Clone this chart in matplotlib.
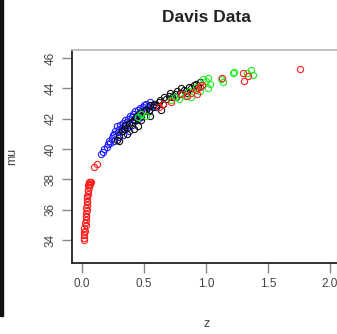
import matplotlib as mpl
import matplotlib.pyplot as plt
from matplotlib.patches import Rectangle
mpl.rcParams['font.family'] = 'Liberation Sans'

# Davis data: (z, mu) per group
red_z = [0.02, 0.02, 0.02, 0.02, 0.025, 0.02, 0.03, 0.025, 0.03, 0.03,
         0.035, 0.03, 0.04, 0.035, 0.04, 0.04, 0.045, 0.04, 0.05, 0.045,
         0.05, 0.05, 0.055, 0.05, 0.06, 0.055, 0.06, 0.065, 0.07, 0.065,
         0.10, 0.12, 0.62, 0.65, 0.72, 0.80, 0.85, 0.88, 0.92, 0.93,
         0.95, 0.97, 1.13, 1.30, 1.31, 1.34, 1.76]
red_mu = [34.0, 34.1, 34.3, 34.5, 34.6, 34.8, 35.0, 35.1, 35.3, 35.5,
          35.6, 35.8, 36.0, 36.1, 36.3, 36.5, 36.6, 36.8, 37.0, 36.9,
          37.2, 37.3, 37.5, 37.6, 37.7, 37.8, 37.6, 37.8, 37.8, 37.7,
          38.8, 39.0, 42.8, 43.0, 43.1, 43.6, 43.5, 43.7, 43.9, 43.6,
          44.1, 44.2, 44.7, 45.0, 44.5, 44.8, 45.3]

blue_z = [0.15, 0.17, 0.18, 0.20, 0.21, 0.22, 0.23, 0.24, 0.25, 0.26,
          0.27, 0.28, 0.29, 0.30, 0.30, 0.31, 0.32, 0.33, 0.34, 0.35,
          0.35, 0.36, 0.37, 0.38, 0.39, 0.40, 0.40, 0.41, 0.42, 0.43,
          0.44, 0.45, 0.45, 0.46, 0.47, 0.48, 0.49, 0.50, 0.51, 0.52,
          0.53, 0.54, 0.55, 0.57, 0.60, 0.33, 0.38, 0.26, 0.42, 0.48]
blue_mu = [39.7, 39.8, 40.0, 40.1, 40.3, 40.5, 40.4, 40.7, 40.9, 41.0,
           41.2, 41.5, 41.1, 41.3, 40.8, 41.6, 41.4, 41.7, 41.5, 41.9,
           41.3, 41.8, 42.0, 41.7, 42.2, 42.1, 41.6, 42.3, 42.0, 42.5,
           42.2, 42.6, 42.0, 42.4, 42.7, 42.5, 42.8, 42.9, 42.6, 43.0,
           42.8, 42.6, 43.1, 42.9, 42.8, 40.9, 41.2, 40.5, 41.9, 42.1]

black_z = [0.28, 0.30, 0.32, 0.34, 0.35, 0.36, 0.38, 0.40, 0.42, 0.44,
           0.45, 0.46, 0.48, 0.50, 0.52, 0.54, 0.55, 0.57, 0.58, 0.60,
           0.62, 0.63, 0.65, 0.66, 0.68, 0.70, 0.71, 0.73, 0.75, 0.77,
           0.79, 0.80, 0.82, 0.84, 0.86, 0.88, 0.90, 0.92, 0.94, 0.95,
           0.36, 0.48, 0.55, 0.64, 0.76, 0.85, 0.30, 0.42]
black_mu = [40.6, 40.9, 41.2, 41.3, 41.6, 41.4, 41.7, 41.8, 41.9, 42.1,
            41.5, 42.3, 42.2, 42.5, 42.6, 42.5, 42.9, 42.8, 43.0, 42.9,
            43.1, 43.2, 43.0, 43.4, 43.3, 43.5, 43.7, 43.4, 43.6, 43.8,
            43.7, 44.0, 43.9, 43.8, 44.1, 44.0, 44.2, 44.3, 44.1, 44.4,
            41.0, 41.9, 42.2, 42.6, 43.4, 43.7, 40.5, 41.3]

green_z = [0.45, 0.48, 0.52, 0.72, 0.75, 0.83, 0.86, 0.88, 0.95, 0.97,
           1.00, 1.02, 1.03, 0.98, 1.12, 1.14, 1.22, 1.23, 1.36, 1.38,
           1.33, 1.02, 0.92, 0.78]
green_mu = [42.1, 42.3, 42.2, 43.2, 43.4, 43.5, 43.8, 43.4, 43.8, 44.2,
            44.5, 44.0, 44.3, 44.6, 44.6, 44.4, 45.0, 45.1, 45.2, 44.9,
            45.0, 44.7, 44.1, 43.3]

x_ticks = [0.0, 0.5, 1.0, 1.5, 2.0]
y_ticks = [34, 36, 38, 40, 42, 44, 46]

fig = plt.figure(figsize=(3.37, 3.34), dpi=100)
ax = fig.add_axes([0.2136, 0.2126, 0.80, 0.6377])

mk = dict(linestyle='none', marker='o', markersize=4.5, markerfacecolor='none',
          markeredgewidth=0.8)
ax.plot(blue_z, blue_mu, markeredgecolor='#2020ff', **mk)
ax.plot(black_z, black_mu, markeredgecolor='#111111', **mk)
ax.plot(green_z, green_mu, markeredgecolor='#22ee22', **mk)
ax.plot(red_z, red_mu, markeredgecolor='#ff2020', **mk)

ax.set_xlim(-0.08, 2.094)
ax.set_ylim(32.48, 46.53)
ax.set_xticks(x_ticks)
ax.set_xticklabels(['%.1f' % v for v in x_ticks])
ax.set_yticks(y_ticks)
ax.set_yticklabels([str(v) for v in y_ticks], rotation=90, va='center')

for s in ['left', 'bottom']:
    ax.spines[s].set_color('#222222')
    ax.spines[s].set_linewidth(1.3)
for s in ['top', 'right']:
    ax.spines[s].set_color('#bbbbbb')
    ax.spines[s].set_linewidth(1.3)

ax.tick_params(axis='both', length=7, width=1, color='#888888',
               labelsize=8.5, labelcolor='#444444', pad=4)

ax.set_title('Davis Data', fontsize=12.5, fontweight='bold', color='#222222',
             pad=20)
ax.set_xlabel('z', fontsize=9, color='#444444', labelpad=20)
ax.set_ylabel('mu', fontsize=9, color='#444444', labelpad=19)

# dark strip at the left edge of the picture
fig.patches.append(Rectangle((0, 0.055), 0.009, 0.945, transform=fig.transFigure,
                             color='#111111'))

fig.savefig('out.png', dpi=100)
